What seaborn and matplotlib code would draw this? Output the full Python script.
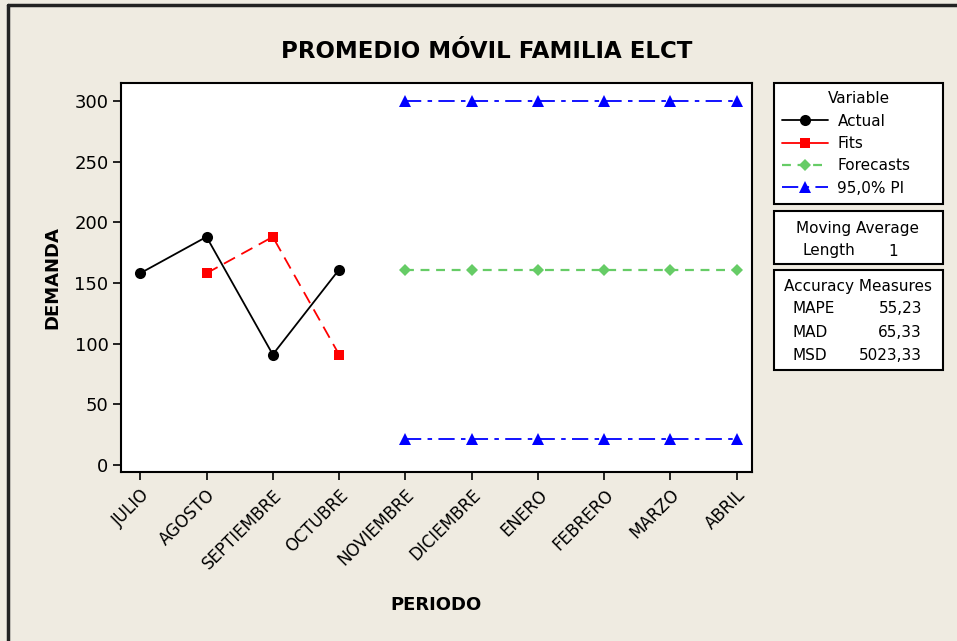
import pandas as pd
import seaborn as sns
import matplotlib
matplotlib.use("Agg")
import matplotlib.pyplot as plt
from matplotlib.lines import Line2D
from matplotlib.patches import Rectangle

months = ["JULIO", "AGOSTO", "SEPTIEMBRE", "OCTUBRE", "NOVIEMBRE",
          "DICIEMBRE", "ENERO", "FEBRERO", "MARZO", "ABRIL"]
actual_months = ["JULIO", "AGOSTO", "SEPTIEMBRE", "OCTUBRE"]
actual = [158, 188, 91, 161]
fits_months = ["AGOSTO", "SEPTIEMBRE", "OCTUBRE"]
fits = [158, 188, 91]
fc_months = ["NOVIEMBRE", "DICIEMBRE", "ENERO", "FEBRERO", "MARZO", "ABRIL"]
forecasts = [160.7, 160.7, 160.7, 160.7, 160.7, 160.7]
pi_upper = [299.6, 299.6, 299.6, 299.6, 299.6, 299.6]
pi_lower = [21.7, 21.7, 21.7, 21.7, 21.7, 21.7]
yticks = [0, 50, 100, 150, 200, 250, 300]
accuracy = [("MAPE", "55,23"), ("MAD", "65,33"), ("MSD", "5023,33")]

bg = "#EFEBE1"
green = "#66CC66"

sns.set_style("ticks")
plt.rcParams["font.family"] = ["DejaVu Sans"]
plt.rcParams["text.color"] = "black"
plt.rcParams["axes.labelcolor"] = "black"
plt.rcParams["xtick.color"] = "black"
plt.rcParams["ytick.color"] = "black"

fig = plt.figure(figsize=(9.57, 6.41), dpi=100, facecolor=bg)
ax = fig.add_axes([121 / 957, 1 - 472 / 641, (752 - 121) / 957, (472 - 83) / 641])
ax.set_facecolor("white")

pos = {m: i for i, m in enumerate(months)}
df_act = pd.DataFrame({"x": [pos[m] for m in actual_months], "y": actual})
df_fit = pd.DataFrame({"x": [pos[m] for m in fits_months], "y": fits})
df_fc = pd.DataFrame({"x": [pos[m] for m in fc_months], "fc": forecasts,
                      "up": pi_upper, "lo": pi_lower})

pi_dash = (0, (9, 3.5, 2.5, 3.5))
sns.lineplot(data=df_act, x="x", y="y", ax=ax, color="black", lw=1.3,
             marker="o", markersize=8, markeredgewidth=0)
sns.lineplot(data=df_fit, x="x", y="y", ax=ax, color="red", lw=1.3,
             marker="s", markersize=7.5, markeredgewidth=0, linestyle=(0, (7, 4)))
sns.lineplot(data=df_fc, x="x", y="fc", ax=ax, color=green, lw=1.6,
             marker="D", markersize=6.5, markeredgewidth=0, linestyle=(0, (4, 3)))
sns.lineplot(data=df_fc, x="x", y="up", ax=ax, color="blue", lw=1.3,
             marker="^", markersize=9, markeredgewidth=0, linestyle=pi_dash)
sns.lineplot(data=df_fc, x="x", y="lo", ax=ax, color="blue", lw=1.3,
             marker="^", markersize=9, markeredgewidth=0, linestyle=pi_dash)

ax.set_xlim(-0.29, 9.23)
ax.set_ylim(-5.8, 314.8)
ax.set_xticks(range(len(months)))
ax.set_xticklabels(months, rotation=45, ha="right", rotation_mode="anchor", fontsize=12)
ax.set_yticks(yticks)
ax.tick_params(axis="y", labelsize=13, length=6, width=1.2, color="black", pad=3)
ax.tick_params(axis="x", length=6, width=1.2, color="black", pad=4)
for s in ax.spines.values():
    s.set_color("black")
    s.set_linewidth(1.5)
ax.set_xlabel("PERIODO", fontsize=13, fontweight="bold", labelpad=0)
ax.set_ylabel("DEMANDA", fontsize=13, fontweight="bold", labelpad=16)
ax.xaxis.set_label_coords(0.5, -0.32)
ax.yaxis.set_label_coords(-0.095, 0.5)

fig.text(487 / 957, 1 - 52 / 641, "PROMEDIO MÓVIL FAMILIA ELCT", ha="center",
         va="center", fontsize=16.5, fontweight="bold")

# legend box 1
handles = [
    Line2D([], [], color="black", lw=1.3, marker="o", markersize=8, markeredgewidth=0),
    Line2D([], [], color="red", lw=1.3, marker="s", markersize=7.5, markeredgewidth=0),
    Line2D([], [], color=green, lw=1.6, marker="D", markersize=6.5, markeredgewidth=0,
           linestyle=(0, (4, 3))),
    Line2D([], [], color="blue", lw=1.3, marker="^", markersize=9, markeredgewidth=0,
           linestyle=(0, (9, 3.5, 2.5, 3.5))),
]
leg = fig.legend(handles, ["Actual", "Fits", "Forecasts", "95,0% PI"], title="Variable",
                 loc="upper left",
                 bbox_to_anchor=(774 / 957, 1 - 83 / 641 - 0.01, 169 / 957, 0.01),
                 mode="expand", fontsize=11, title_fontsize=11, frameon=True,
                 fancybox=False, edgecolor="black", framealpha=1, handlelength=3.0,
                 handletextpad=0.6, labelspacing=0.48, borderpad=0.55, borderaxespad=0)
leg.get_frame().set_linewidth(1.5)
leg.get_frame().set_facecolor("white")

# boxes 2 and 3
for y0, y1 in [(211, 264), (270, 370)]:
    fig.patches.append(Rectangle((774 / 957, 1 - y1 / 641), 169 / 957, (y1 - y0) / 641,
                                 transform=fig.transFigure, facecolor="white",
                                 edgecolor="black", lw=1.5))
fig.text(858 / 957, 1 - 228 / 641, "Moving Average", ha="center", va="center", fontsize=11)
fig.text(803 / 957, 1 - 251 / 641, "Length", ha="left", va="center", fontsize=11)
fig.text(898 / 957, 1 - 251 / 641, "1", ha="right", va="center", fontsize=11)
fig.text(858 / 957, 1 - 286 / 641, "Accuracy Measures", ha="center", va="center", fontsize=11)
for i, (name, val) in enumerate(accuracy):
    yy = 1 - (309 + 23 * i) / 641
    fig.text(793 / 957, yy, name, ha="left", va="center", fontsize=11)
    fig.text(922 / 957, yy, val, ha="right", va="center", fontsize=11)

# outer frame lines (top and left)
fig.add_artist(Line2D([8 / 957, 1], [1 - 5 / 641, 1 - 5 / 641], transform=fig.transFigure,
                      color="#222222", lw=2.5))
fig.add_artist(Line2D([8 / 957, 8 / 957], [0, 1 - 5 / 641], transform=fig.transFigure,
                      color="#222222", lw=2.5))

fig.savefig("out.png", dpi=100, facecolor=bg)
